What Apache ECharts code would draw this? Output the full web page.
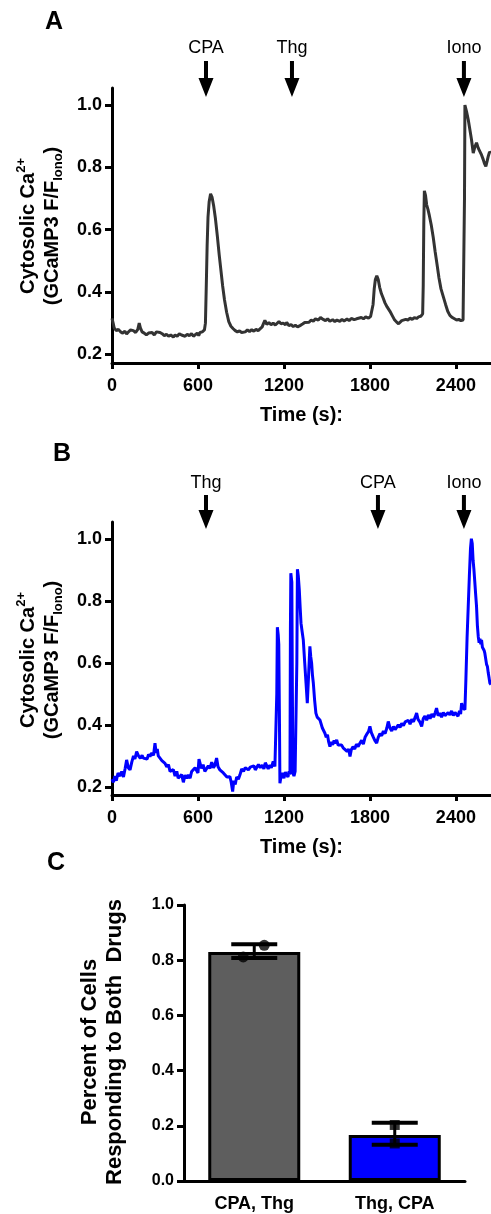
<!DOCTYPE html>
<html>
<head>
<meta charset="utf-8">
<script src="https://cdn.jsdelivr.net/npm/echarts@6/dist/echarts.min.js"></script>
<style>
  html, body { margin: 0; padding: 0; background: #fff; }
  #chart { width: 491px; height: 1214px; }
</style>
</head>
<body>
<div id="chart"></div>
<script>
// Panel A trace: [time (s), F/F_Iono]
const traceA = [
  [0,0.315],[8,0.30],[15,0.285],[30,0.276],[45,0.28],[60,0.272],[75,0.268],[90,0.274],[102,0.265],[115,0.272],
  [130,0.278],[149,0.276],[165,0.27],[180,0.28],[190,0.30],[198,0.285],[210,0.272],[225,0.268],[240,0.262],[255,0.268],
  [265,0.264],[280,0.27],[295,0.262],[310,0.272],[323,0.278],[335,0.27],[350,0.266],[365,0.26],[380,0.264],[395,0.258],
  [410,0.262],[428,0.255],[440,0.262],[455,0.258],[470,0.266],[485,0.262],[498,0.268],[510,0.258],[525,0.264],[540,0.26],
  [555,0.266],[568,0.258],[580,0.264],[595,0.268],[605,0.26],[614,0.27],[630,0.272],[645,0.278],[652,0.30],[658,0.42],
  [664,0.55],[670,0.64],[678,0.69],[688,0.715],[698,0.705],[710,0.675],[722,0.635],[735,0.58],[748,0.52],[760,0.47],
  [772,0.42],[785,0.375],[800,0.335],[815,0.305],[830,0.29],[846,0.282],[860,0.276],[875,0.272],[890,0.275],[905,0.27],
  [916,0.276],[930,0.272],[945,0.278],[960,0.273],[975,0.279],[990,0.274],[1005,0.28],[1020,0.276],[1033,0.282],[1048,0.288],
  [1060,0.302],[1067,0.309],[1080,0.296],[1095,0.302],[1110,0.295],[1125,0.3],[1140,0.294],[1149,0.298],[1165,0.305],[1180,0.298],
  [1195,0.3],[1210,0.295],[1219,0.302],[1235,0.292],[1250,0.295],[1265,0.289],[1280,0.293],[1295,0.288],[1312,0.292],[1330,0.297],
  [1345,0.302],[1358,0.308],[1375,0.303],[1390,0.31],[1405,0.306],[1420,0.314],[1440,0.31],[1455,0.318],[1474,0.312],[1490,0.308],
  [1505,0.314],[1520,0.306],[1540,0.311],[1555,0.305],[1570,0.31],[1590,0.306],[1605,0.312],[1620,0.307],[1640,0.313],[1655,0.308],
  [1670,0.315],[1690,0.311],[1707,0.314],[1720,0.309],[1740,0.318],[1755,0.314],[1770,0.32],[1790,0.316],[1805,0.322],[1815,0.326],
  [1822,0.36],[1830,0.41],[1838,0.44],[1848,0.452],[1858,0.44],[1868,0.415],[1880,0.395],[1893,0.38],[1905,0.365],[1920,0.352],
  [1940,0.338],[1955,0.325],[1970,0.312],[1985,0.304],[2000,0.298],[2009,0.3],[2022,0.308],[2035,0.304],[2050,0.312],[2065,0.31],
  [2080,0.316],[2095,0.312],[2110,0.318],[2126,0.315],[2140,0.32],[2155,0.322],[2168,0.33],[2172,0.42],[2176,0.62],[2180,0.725],
  [2188,0.71],[2196,0.68],[2205,0.665],[2215,0.645],[2228,0.615],[2242,0.575],[2255,0.53],[2268,0.49],[2282,0.445],[2296,0.41],
  [2312,0.385],[2328,0.36],[2343,0.338],[2358,0.325],[2375,0.318],[2390,0.314],[2405,0.31],[2420,0.312],[2435,0.308],[2450,0.31],
  [2456,0.312],[2460,0.7],[2463,1.0],[2474,0.98],[2486,0.954],[2498,0.92],[2509,0.889],[2521,0.846],[2532,0.865],[2544,0.879],
  [2556,0.862],[2567,0.857],[2579,0.84],[2591,0.825],[2600,0.812],[2609,0.803],[2618,0.82],[2626,0.836],[2635,0.85],[2645,0.846]
];

// Panel B trace
const traceB = [
  [0,0.225],[10,0.215],[20,0.235],[30,0.22],[42,0.245],[56,0.235],[68,0.25],[80,0.232],[92,0.26],[102,0.287],
  [114,0.262],[126,0.255],[138,0.28],[150,0.3],[160,0.29],[172,0.314],[185,0.3],[198,0.292],[210,0.302],[219,0.293],
  [232,0.298],[245,0.29],[255,0.305],[265,0.298],[278,0.31],[290,0.302],[300,0.341],[308,0.31],[316,0.322],[323,0.3],
  [335,0.305],[348,0.285],[360,0.29],[370,0.276],[382,0.265],[394,0.272],[405,0.25],[416,0.244],[428,0.256],[440,0.235],
  [452,0.25],[462,0.228],[474,0.223],[486,0.24],[498,0.215],[510,0.238],[522,0.228],[533,0.239],[545,0.228],[556,0.25],
  [568,0.245],[580,0.262],[591,0.266],[600,0.245],[607,0.29],[614,0.287],[624,0.26],[636,0.272],[648,0.25],[660,0.255],
  [672,0.268],[684,0.26],[696,0.28],[708,0.262],[718,0.27],[730,0.293],[740,0.265],[753,0.255],[765,0.26],[777,0.245],
  [790,0.248],[802,0.232],[814,0.238],[823,0.233],[832,0.215],[842,0.185],[850,0.22],[860,0.208],[870,0.232],[882,0.225],
  [893,0.239],[905,0.258],[918,0.25],[930,0.262],[940,0.266],[952,0.255],[965,0.264],[978,0.258],[990,0.268],[1000,0.255],
  [1010,0.26],[1022,0.272],[1035,0.262],[1048,0.27],[1060,0.258],[1070,0.278],[1079,0.276],[1090,0.258],[1100,0.27],[1112,0.262],
  [1125,0.282],[1137,0.266],[1144,0.262],[1150,0.5],[1154,0.715],[1160,0.69],[1164,0.66],[1168,0.45],[1172,0.212],[1180,0.235],
  [1190,0.245],[1200,0.228],[1210,0.248],[1219,0.239],[1228,0.232],[1236,0.25],[1242,0.24],[1245,0.7],[1248,0.889],[1255,0.86],
  [1259,0.5],[1262,0.245],[1270,0.235],[1278,0.25],[1285,0.245],[1290,0.6],[1294,0.902],[1300,0.88],[1307,0.836],[1313,0.78],
  [1319,0.728],[1327,0.7],[1335,0.674],[1345,0.6],[1354,0.535],[1363,0.47],[1372,0.56],[1381,0.653],[1387,0.62],[1393,0.6],
  [1399,0.56],[1405,0.535],[1414,0.48],[1423,0.438],[1432,0.425],[1441,0.43],[1451,0.416],[1460,0.41],[1468,0.39],[1477,0.395],
  [1486,0.373],[1495,0.36],[1504,0.368],[1512,0.345],[1521,0.33],[1530,0.345],[1540,0.336],[1550,0.35],[1559,0.34],[1568,0.352],
  [1578,0.335],[1588,0.34],[1602,0.335],[1615,0.325],[1628,0.33],[1640,0.315],[1652,0.322],[1661,0.298],[1670,0.32],[1682,0.33],
  [1694,0.322],[1706,0.338],[1718,0.33],[1730,0.341],[1742,0.35],[1754,0.338],[1766,0.36],[1778,0.37],[1790,0.378],[1800,0.395],
  [1810,0.375],[1822,0.362],[1834,0.35],[1847,0.341],[1858,0.36],[1870,0.372],[1882,0.365],[1894,0.38],[1906,0.372],[1918,0.39],
  [1928,0.411],[1940,0.39],[1952,0.38],[1964,0.395],[1976,0.385],[1986,0.384],[1998,0.4],[2010,0.392],[2022,0.405],[2034,0.398],
  [2046,0.41],[2056,0.405],[2068,0.415],[2080,0.402],[2092,0.418],[2104,0.41],[2116,0.425],[2126,0.438],[2136,0.418],[2148,0.41],
  [2161,0.395],[2172,0.42],[2184,0.428],[2196,0.415],[2208,0.432],[2220,0.42],[2232,0.435],[2244,0.425],[2256,0.44],[2265,0.454],
  [2276,0.43],[2288,0.438],[2300,0.425],[2312,0.44],[2324,0.43],[2335,0.427],[2346,0.44],[2358,0.432],[2370,0.445],[2382,0.43],
  [2394,0.44],[2405,0.438],[2415,0.428],[2425,0.445],[2433,0.435],[2440,0.47],[2448,0.455],[2456,0.45],[2463,0.449],[2470,0.55],
  [2478,0.68],[2486,0.78],[2494,0.88],[2502,0.97],[2508,1.0],[2514,0.985],[2520,0.93],[2526,0.9],[2532,0.86],[2538,0.82],
  [2544,0.782],[2550,0.72],[2556,0.685],[2562,0.665],[2568,0.678],[2574,0.66],[2579,0.674],[2585,0.65],[2591,0.655],[2597,0.64],
  [2602,0.631],[2608,0.625],[2614,0.595],[2620,0.588],[2626,0.567],[2632,0.55],[2637,0.535],[2645,0.53]
];

// drug additions (s)
const arrowsA = [['CPA', 656], ['Thg', 1256], ['Iono', 2456]];
const arrowsB = [['Thg', 656], ['CPA', 1856], ['Iono', 2456]];

const timeTicks = [0, 600, 1200, 1800, 2400];
const ratioTicks = [0.2, 0.4, 0.6, 0.8, 1.0];

// Panel C
const barCats = ['CPA, Thg', 'Thg, CPA'];
const barMeans = [0.83, 0.167];
const errLow = [0.808, 0.131];
const errHigh = [0.858, 0.211];
const pointsCpaThg = [0.812, 0.854];
const pointsThgCpa = [0.203, 0.136];

const FONT = 'Liberation Sans, Arial, sans-serif';
const chart = echarts.init(document.getElementById('chart'), null, { renderer: 'canvas' });

function timeAxis(gridIndex) {
  return {
    gridIndex, type: 'value', min: 0, max: 2645,
    name: 'Time (s):', nameLocation: 'middle', nameGap: 42,
    nameTextStyle: { fontFamily: FONT, fontWeight: 'bold', fontSize: 20, color: '#000' },
    axisLine: { lineStyle: { color: '#000', width: 3 } },
    axisTick: { customValues: timeTicks, length: 6, lineStyle: { color: '#000', width: 3 } },
    axisLabel: { customValues: timeTicks, margin: 14, formatter: v => String(v),
      fontFamily: FONT, fontWeight: 'bold', fontSize: 18, color: '#000' },
    splitLine: { show: false }
  };
}
function ratioAxis(gridIndex, min, max) {
  return {
    gridIndex, type: 'value', min, max,
    axisLine: { show: true, lineStyle: { color: '#000', width: 3 } },
    axisTick: { show: true, customValues: ratioTicks, length: 7, lineStyle: { color: '#000', width: 3 } },
    axisLabel: { customValues: ratioTicks, margin: 10, formatter: v => v.toFixed(1),
      fontFamily: FONT, fontWeight: 'bold', fontSize: 18, color: '#000' },
    splitLine: { show: false }
  };
}

function richFor(size) {
  return {
    n: { fontFamily: FONT, fontWeight: 'bold', fontSize: size, lineHeight: size + 6, fill: '#000' },
    sup: { fontFamily: FONT, fontWeight: 'bold', fontSize: 13, lineHeight: 14, verticalAlign: 'top', fill: '#000' },
    sub: { fontFamily: FONT, fontWeight: 'bold', fontSize: 13, lineHeight: 12, verticalAlign: 'bottom', fill: '#000' }
  };
}
function vText(x, y, text, size) {
  return { type: 'text', x, y, rotation: Math.PI / 2,
    style: { text, rich: richFor(size || 20), align: 'center', verticalAlign: 'middle',
      font: 'bold ' + (size || 20) + 'px ' + FONT, fill: '#000' } };
}
function letter(x, y, t) {
  return { type: 'text', x, y, style: { text: t, font: 'bold 25px ' + FONT, fill: '#000', align: 'center', verticalAlign: 'middle' } };
}

chart.setOption({
  animation: false,
  grid: [
    { left: 112, top: 88, width: 379, height: 275 },
    { left: 112, top: 522, width: 379, height: 273 },
    { left: 184, top: 905, width: 281, height: 276 }
  ],
  xAxis: [
    timeAxis(0), timeAxis(1),
    { gridIndex: 2, type: 'category', data: barCats,
      axisLine: { lineStyle: { color: '#000', width: 3 } },
      axisTick: { alignWithLabel: true, length: 6, lineStyle: { color: '#000', width: 3 } },
      axisLabel: { margin: 14, fontFamily: FONT, fontWeight: 'bold', fontSize: 18, color: '#000' } }
  ],
  yAxis: [
    ratioAxis(0, 0.172, 1.055),
    ratioAxis(1, 0.174, 1.054),
    { gridIndex: 2, type: 'value', min: 0, max: 1, interval: 0.2,
      axisLine: { show: true, lineStyle: { color: '#000', width: 3 } },
      axisTick: { show: true, length: 7, lineStyle: { color: '#000', width: 3 } },
      axisLabel: { margin: 10, formatter: v => v.toFixed(1), fontFamily: FONT, fontWeight: 'bold', fontSize: 16, color: '#000' },
      splitLine: { show: false } }
  ],
  series: [
    { type: 'line', xAxisIndex: 0, yAxisIndex: 0, data: traceA, showSymbol: false,
      lineStyle: { color: '#333333', width: 3 } },
    { type: 'line', xAxisIndex: 1, yAxisIndex: 1, data: traceB, showSymbol: false,
      lineStyle: { color: '#0000ff', width: 3 } },
    { type: 'bar', xAxisIndex: 2, yAxisIndex: 2, data: barMeans, barWidth: 92,
      itemStyle: { color: p => ['#5e5e5e', '#0000ff'][p.dataIndex], borderColor: '#000', borderWidth: 3 } },
    { type: 'custom', xAxisIndex: 2, yAxisIndex: 2, z: 5,
      data: barCats.map((c, i) => [i, errLow[i], errHigh[i]]),
      renderItem: (params, api) => {
        const lo = api.coord([api.value(0), api.value(1)]);
        const hi = api.coord([api.value(0), api.value(2)]);
        const hw = 23;
        const st = { stroke: '#000', lineWidth: 4 };
        return { type: 'group', children: [
          { type: 'line', shape: { x1: lo[0], y1: lo[1], x2: hi[0], y2: hi[1] }, style: { stroke: '#000', lineWidth: 3 } },
          { type: 'line', shape: { x1: lo[0] - hw, y1: lo[1], x2: lo[0] + hw, y2: lo[1] }, style: st },
          { type: 'line', shape: { x1: hi[0] - hw, y1: hi[1], x2: hi[0] + hw, y2: hi[1] }, style: st }
        ] };
      } },
    { type: 'scatter', xAxisIndex: 2, yAxisIndex: 2, z: 6, symbol: 'circle', symbolSize: 11,
      itemStyle: { color: '#000' },
      data: pointsCpaThg.map((v, i) => ({ value: [0, v], symbolOffset: [i === 0 ? -11 : 10, 0] })) },
    { type: 'scatter', xAxisIndex: 2, yAxisIndex: 2, z: 6, symbol: 'rect', symbolSize: 10,
      itemStyle: { color: '#000' },
      data: pointsThgCpa.map(v => [1, v]) }
  ]
});

// annotations: arrows at drug addition times, placed through the axis scale
function arrowGraphics(list, gridIndex, labelY, top, tip) {
  const out = [];
  list.forEach(([label, t]) => {
    const x = chart.convertToPixel({ gridIndex }, [t, 0.5])[0];
    const hb = tip - 19;
    out.push({ type: 'polygon', shape: { points: [[x - 2, top], [x + 2, top], [x + 2, hb], [x + 7.5, hb], [x, tip], [x - 7.5, hb], [x - 2, hb]] },
      style: { fill: '#000' } });
    out.push({ type: 'text', x, y: labelY, style: { text: label, font: '18px ' + FONT, fill: '#000', align: 'center', verticalAlign: 'middle' } });
  });
  return out;
}

chart.setOption({
  graphic: [
    letter(54, 22, 'A'), letter(62, 454, 'B'), letter(56, 863, 'C'),
    vText(28, 226, '{n|Cytosolic Ca}{sup|2+}'),
    vText(52, 226, '{n|(GCaMP3 F/F}{sub|Iono}{n|)}'),
    vText(28, 660, '{n|Cytosolic Ca}{sup|2+}'),
    vText(52, 660, '{n|(GCaMP3 F/F}{sub|Iono}{n|)}'),
    vText(90, 1042, '{n|Percent of Cells}', 22),
    vText(115, 1042, '{n|Responding to Both  Drugs}', 22),
    ...arrowGraphics(arrowsA, 0, 48, 61, 97),
    ...arrowGraphics(arrowsB, 1, 483, 495, 529)
  ]
});
</script>
</body>
</html>
